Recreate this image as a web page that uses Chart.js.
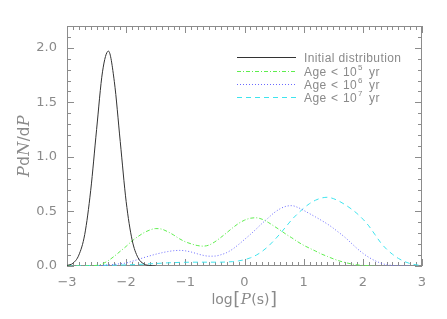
<!DOCTYPE html>
<html>
<head>
<meta charset="utf-8">
<script src="https://cdn.jsdelivr.net/npm/chart.js@4"></script>
<style>
  html, body { margin: 0; padding: 0; background: #fff; }
  #wrap { width: 447px; height: 319px; }
</style>
</head>
<body>
<div id="wrap"><canvas id="chart" width="447" height="319"></canvas></div>
<script>
// log P grid (s)
const logP = [-3.0, -2.9, -2.8, -2.7, -2.6, -2.5, -2.4, -2.3, -2.2, -2.1,
  -2.0, -1.9, -1.8, -1.7, -1.6, -1.5, -1.4, -1.3, -1.2, -1.1,
  -1.0, -0.9, -0.8, -0.7, -0.6, -0.5, -0.4, -0.3, -0.2, -0.1,
  0.0, 0.1, 0.2, 0.3, 0.4, 0.5, 0.6, 0.7, 0.8, 0.9,
  1.0, 1.1, 1.2, 1.3, 1.4, 1.5, 1.6, 1.7, 1.8, 1.9,
  2.0, 2.1, 2.2, 2.3, 2.4, 2.5, 2.6, 2.7, 2.8, 2.9, 3.0]

const initialDist = [0.005, 0.025, 0.10, 0.29, 0.69, 1.25, 1.78, 1.97, 1.69, 1.14,
  0.59, 0.24, 0.076, 0.019, 0.004, 0.0]

const age1e5 = [0, 0, 0, 0, 0.002, 0.006, 0.02, 0.05, 0.09, 0.135,
  0.18, 0.23, 0.27, 0.305, 0.33, 0.343, 0.338, 0.315, 0.285, 0.25,
  0.222, 0.203, 0.188, 0.182, 0.192, 0.222, 0.262, 0.305, 0.35, 0.39,
  0.42, 0.438, 0.442, 0.428, 0.40, 0.365, 0.33, 0.292, 0.258, 0.222,
  0.19, 0.163, 0.137, 0.11, 0.088, 0.066, 0.047, 0.032, 0.02, 0.011,
  0.005, 0.002, 0]

const age1e6 = [0, 0, 0, 0, 0.001, 0.003, 0.006, 0.01, 0.015, 0.021,
  0.028, 0.043, 0.06, 0.077, 0.093, 0.108, 0.121, 0.132, 0.14, 0.143,
  0.139, 0.128, 0.112, 0.098, 0.09, 0.091, 0.103, 0.123, 0.155, 0.197,
  0.243, 0.29, 0.34, 0.392, 0.44, 0.488, 0.524, 0.547, 0.553, 0.537,
  0.51, 0.48, 0.45, 0.418, 0.385, 0.347, 0.305, 0.262, 0.212, 0.162,
  0.117, 0.08, 0.05, 0.027, 0.012, 0.005, 0.001, 0, 0]

const age1e7 = [0, 0.001, 0.002, 0.003, 0.004, 0.005, 0.006, 0.007, 0.008, 0.009,
  0.01, 0.012, 0.014, 0.017, 0.02, 0.023, 0.026, 0.029, 0.031, 0.033,
  0.034, 0.035, 0.035, 0.035, 0.035, 0.035, 0.035, 0.037, 0.04, 0.047,
  0.058, 0.075, 0.10, 0.135, 0.18, 0.235, 0.295, 0.36, 0.425, 0.48,
  0.53, 0.572, 0.603, 0.623, 0.63, 0.618, 0.594, 0.562, 0.525, 0.482,
  0.43, 0.368, 0.292, 0.215, 0.155, 0.108, 0.07, 0.042, 0.022, 0.011, 0.005]

const xTicks = [-3, -2, -1, 0, 1, 2, 3]
const yTicks = [0, 0.5, 1.0, 1.5, 2.0]

const axisColor = '#8c8c8c'
const textColor = '#8a8a8a'

function toPoints(values) {
  return values.map((v, i) => ({ x: logP[i], y: v }))
}

// frame with inward ticks on all four sides (IDL style)
const framePlugin = {
  id: 'frame',
  beforeDatasetsDraw(chart) {
    const { ctx, chartArea: a, scales } = chart
    const xs = scales.x, ys = scales.y
    ctx.save()
    ctx.strokeStyle = axisColor
    ctx.lineWidth = 1
    ctx.strokeRect(a.left + 0.5, a.top + 0.5, a.right - a.left - 1, a.bottom - a.top - 1)
    ctx.beginPath()
    for (let i = -30; i <= 30; i++) {
      const px = Math.round(xs.getPixelForValue(i / 10)) + 0.5
      const len = i % 10 === 0 ? 7 : 4
      ctx.moveTo(px, a.bottom); ctx.lineTo(px, a.bottom - len)
      ctx.moveTo(px, a.top); ctx.lineTo(px, a.top + len)
    }
    for (let i = 0; i <= 22; i++) {
      const py = Math.round(ys.getPixelForValue(i / 10)) + 0.5
      const len = i % 5 === 0 ? 7 : 4
      ctx.moveTo(a.left, py); ctx.lineTo(a.left + len, py)
      ctx.moveTo(a.right, py); ctx.lineTo(a.right - len, py)
    }
    ctx.stroke()
    ctx.restore()
  },
  afterDraw(chart) {
    const { ctx, chartArea: a } = chart
    ctx.save()
    ctx.fillStyle = textColor
    ctx.textBaseline = 'alphabetic'

    // x title: log[P(s)]
    const cx = (a.left + a.right) / 2
    const parts = [
      { t: 'log', f: '14px "DejaVu Sans"' },
      { t: '[', f: '18px "DejaVu Sans"' },
      { t: 'P', f: 'italic 15px "DejaVu Serif"' },
      { t: '(s)', f: '14px "DejaVu Sans"' },
      { t: ']', f: '18px "DejaVu Sans"' }
    ]
    drawParts(ctx, parts, cx, 304)

    // y title: PdN/dP rotated
    ctx.translate(29, (a.top + a.bottom) / 2)
    ctx.rotate(-Math.PI / 2)
    const yparts = [
      { t: 'P', f: 'italic 16px "DejaVu Serif"' },
      { t: 'd', f: '15px "DejaVu Sans"' },
      { t: 'N', f: 'italic 16px "DejaVu Serif"' },
      { t: '/d', f: '15px "DejaVu Sans"' },
      { t: 'P', f: 'italic 16px "DejaVu Serif"' }
    ]
    drawParts(ctx, yparts, 0, 0)
    ctx.restore()

    // legend
    ctx.save()
    const lx0 = 237, lx1 = 296, tx = 304
    const rows = [57, 71, 84, 97]
    const font = '12px "Liberation Sans"'
    chart.data.datasets.forEach((ds, i) => {
      const y = rows[i] + 0.5
      ctx.strokeStyle = ds.borderColor
      ctx.lineWidth = 1
      ctx.setLineDash(ds.borderDash || [])
      ctx.beginPath(); ctx.moveTo(lx0, y); ctx.lineTo(lx1, y); ctx.stroke()
      ctx.setLineDash([])
      ctx.fillStyle = textColor
      ctx.font = font
      ctx.letterSpacing = '0.4px'
      ctx.textBaseline = 'middle'
      ctx.textAlign = 'left'
      if (ds.ageExp) {
        ctx.fillText('Age', tx, y + 1)
        ctx.fillText('<', tx + 27, y + 1)
        ctx.fillText('10', tx + 39, y + 1)
        ctx.font = '8px "Liberation Sans"'
        ctx.fillText(ds.ageExp, tx + 54, y - 4)
        ctx.font = font
        ctx.fillText('yr', tx + 65, y + 1)
      } else {
        ctx.fillText(ds.label, tx, y + 1)
      }
    })
    ctx.restore()
  }
}

function drawParts(ctx, parts, cx, y) {
  let total = 0
  parts.forEach(p => { ctx.font = p.f; p.w = ctx.measureText(p.t).width + 0.5; total += p.w })
  let x = cx - total / 2
  ctx.textAlign = 'left'
  parts.forEach(p => { ctx.font = p.f; ctx.fillText(p.t, x, y + (p.t === '[' || p.t === ']' ? 1 : 0)); x += p.w })
}

const lineBase = {
  fill: false,
  borderWidth: 1,
  pointRadius: 0,
  cubicInterpolationMode: 'monotone',
  spanGaps: false
}

new Chart(document.getElementById('chart'), {
  type: 'line',
  data: {
    datasets: [
      { ...lineBase, label: 'Initial distribution', data: toPoints(initialDist), borderColor: '#333333' },
      { ...lineBase, label: 'Age < 10^5 yr', ageExp: '5', data: toPoints(age1e5), borderColor: '#5eee4e', borderDash: [4, 2, 1, 2] },
      { ...lineBase, label: 'Age < 10^6 yr', ageExp: '6', data: toPoints(age1e6), borderColor: '#6a6aff', borderDash: [1, 2] },
      { ...lineBase, label: 'Age < 10^7 yr', ageExp: '7', data: toPoints(age1e7), borderColor: '#3ee4ee', borderDash: [5, 4] }
    ]
  },
  options: {
    responsive: false,
    animation: false,
    events: [],
    layout: { padding: { left: 0, right: 25, top: 26, bottom: 0 } },
    plugins: { legend: { display: false }, tooltip: { enabled: false } },
    scales: {
      x: {
        type: 'linear',
        min: -3, max: 3,
        afterFit: s => { s.height = 53 },
        afterBuildTicks: s => { s.ticks = xTicks.map(v => ({ value: v })) },
        grid: { display: false, drawTicks: false },
        border: { display: false },
        ticks: {
          padding: 9,
          color: textColor,
          font: { family: 'DejaVu Sans', size: 13 },
          maxRotation: 0,
          callback: v => String(v).replace('-', '\u2212')
        }
      },
      y: {
        type: 'linear',
        min: 0, max: 2.2,
        afterFit: s => { s.width = 67 },
        afterBuildTicks: s => { s.ticks = yTicks.map(v => ({ value: v })) },
        grid: { display: false, drawTicks: false },
        border: { display: false },
        ticks: {
          padding: 10,
          color: textColor,
          font: { family: 'DejaVu Sans', size: 13 },
          callback: v => v.toFixed(1)
        }
      }
    }
  },
  plugins: [framePlugin]
})
</script>
</body>
</html>
